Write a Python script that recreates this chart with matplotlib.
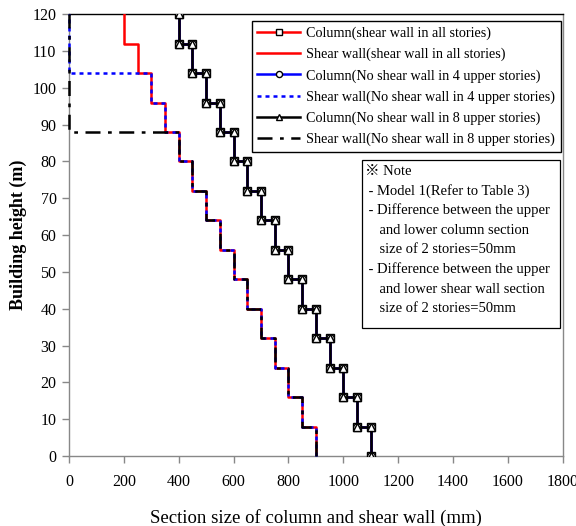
import numpy as np
import matplotlib
matplotlib.use('Agg')
import matplotlib.pyplot as plt
from matplotlib.patches import Rectangle

plt.rcParams.update({
    'font.family': ['Liberation Serif', 'Noto Sans CJK KR'],
    'font.size': 11,
})

# Floor levels (m) where the section size changes, every 2 stories
levels = [0, 8, 16, 24, 32, 40, 48, 56, 64, 72, 80, 88, 96, 104, 112, 120]
# Section size (mm) of each 2-story segment, bottom to top
column_size = [1100, 1050, 1000, 950, 900, 850, 800, 750, 700, 650, 600, 550, 500, 450, 400]
wall_size = [900, 850, 800, 750, 700, 650, 600, 550, 500, 450, 400, 350, 300, 250, 200]
# Height where the shear wall stops for each model
wall_top_4 = 104
wall_top_8 = 88

legend_labels = [
    'Column(shear wall in all stories)',
    'Shear wall(shear wall in all stories)',
    'Column(No shear wall in 4 upper stories)',
    'Shear wall(No shear wall in 4 upper stories)',
    'Column(No shear wall in 8 upper stories)',
    'Shear wall(No shear wall in 8 upper stories)',
]
note_lines = [
    '\u203b Note',
    ' - Model 1(Refer to Table 3)',
    ' - Difference between the upper',
    '    and lower column section',
    '    size of 2 stories=50mm',
    ' - Difference between the upper',
    '    and lower shear wall section',
    '    size of 2 stories=50mm',
]


def step_path(sizes, top=None):
    """Corner points of a stepped profile, bottom to top."""
    xs, ys = [], []
    for i, s in enumerate(sizes):
        lo, hi = levels[i], levels[i + 1]
        if top is not None and lo >= top:
            break
        xs += [s, s]
        ys += [lo, hi]
    if top is not None:
        xs += [0, 0]
        ys += [top, levels[-1]]
    return np.array(xs), np.array(ys)


fig = plt.figure(figsize=(5.76, 5.26), dpi=100)
ax = fig.add_axes([0.1198, 0.133, 0.8572, 0.840])

lw = 1.8
cx, cy = step_path(column_size)
wx, wy = step_path(wall_size)
wx4, wy4 = step_path(wall_size, wall_top_4)
wx8, wy8 = step_path(wall_size, wall_top_8)

mk = dict(markersize=5.5, markeredgecolor='black', markerfacecolor='white',
          markeredgewidth=1.0)
ax.plot(cx, cy, color='red', lw=lw, marker='s', zorder=3,
        label=legend_labels[0], **mk)
ax.plot(wx, wy, color='red', lw=lw, zorder=3, label=legend_labels[1])
ax.plot(cx, cy, color='blue', lw=lw, marker='o', zorder=3,
        label=legend_labels[2], **mk)
ax.plot(wx4, wy4, color='blue', lw=lw, dashes=(1.6, 1.6), clip_on=False,
        zorder=3, label=legend_labels[3])
ax.plot(cx, cy, color='black', lw=lw, marker='^', zorder=3,
        label=legend_labels[4], **mk)
ax.plot(wx8, wy8, color='black', lw=lw, dashes=(6, 3, 1.5, 3), clip_on=False,
        zorder=3, label=legend_labels[5])

ax.set_xlim(0, 1800)
ax.set_ylim(0, 120)
ax.set_xticks(np.arange(0, 1801, 200))
ax.set_yticks(np.arange(0, 121, 10))
ax.tick_params(axis='both', direction='out', length=5, width=1,
               color='#888888', labelsize=11.5, pad=4)
ax.tick_params(axis='x', pad=8)

for side in ['left', 'bottom', 'right']:
    ax.spines[side].set_color('#888888')
    ax.spines[side].set_linewidth(1)
ax.spines['top'].set_color('black')
ax.spines['top'].set_linewidth(1)

ax.set_xlabel('Section size of column and shear wall (mm)', fontsize=13.5, labelpad=14)
ax.set_ylabel('Building height (m)', fontsize=13, fontweight='bold', labelpad=4)

leg = ax.legend(loc='upper right', bbox_to_anchor=(0.9965, 0.985), fontsize=10.2,
                frameon=True, fancybox=False, edgecolor='black', framealpha=1,
                handlelength=3.0, handletextpad=0.45, labelspacing=0.55,
                borderpad=0.4, markerscale=0.8, borderaxespad=0)
leg.get_frame().set_linewidth(1.0)
leg.set_zorder(6)

# Note box
ax.add_patch(Rectangle((0.593, 0.29), 0.401, 0.38, transform=ax.transAxes,
                       facecolor='white', edgecolor='black', lw=0.9, zorder=5))
for i, line in enumerate(note_lines):
    ax.text(0.600, 0.645 - i * 0.0445, line, transform=ax.transAxes,
            fontsize=10.5, va='center', ha='left', zorder=6)

fig.savefig('out.png', dpi=100)
